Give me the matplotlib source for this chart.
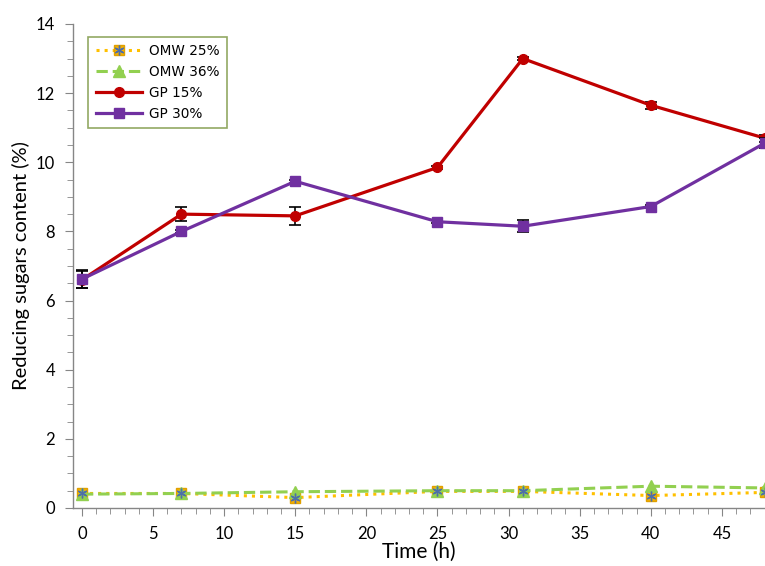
import numpy as np
import matplotlib.pyplot as plt
from matplotlib.legend_handler import HandlerTuple
from matplotlib.ticker import MultipleLocator

plt.rcParams['font.family'] = ['Lato', 'DejaVu Sans']

# datos
time_h = [0, 7, 15, 25, 31, 40, 48]
omw25 = [0.42, 0.42, 0.30, 0.48, 0.48, 0.36, 0.45]
omw36 = [0.40, 0.42, 0.47, 0.50, 0.50, 0.63, 0.58]
gp15 = [6.60, 8.50, 8.45, 9.85, 13.00, 11.65, 10.70]
gp30 = [6.62, 8.00, 9.45, 8.28, 8.15, 8.72, 10.55]
gp15_err = [0.25, 0.20, 0.25, 0.05, 0.05, 0.10, 0.10]
gp30_err = [0.25, 0.05, 0.05, 0.05, 0.18, 0.05, 0.15]

fig = plt.figure(figsize=(7.65, 5.66), dpi=100)
ax = fig.add_axes([0.0954, 0.1025, 0.9046, 0.8551])

l1, = ax.plot(time_h, omw25, ':', color='#FFC000', lw=2.2, marker='s', ms=7,
              mfc='#F5B000', mec='#E0A000', zorder=3)
a1, = ax.plot(time_h, omw25, ls='none', marker=(6, 2, 0), ms=7, mec='#4F6FA8',
              mew=1.0, zorder=4)
l2, = ax.plot(time_h, omw36, '--', color='#92D050', lw=2.2, marker='^', ms=8,
              mfc='#92D050', mec='#92D050', zorder=3)
l3 = ax.errorbar(time_h, gp15, yerr=gp15_err, color='#C00000', lw=2.3, marker='o',
                 ms=7, ecolor='black', elinewidth=1.2, capsize=4, capthick=1.2, zorder=5)
l4 = ax.errorbar(time_h, gp30, yerr=gp30_err, color='#7030A0', lw=2.3, marker='s',
                 ms=7, ecolor='black', elinewidth=1.2, capsize=4, capthick=1.2, zorder=6)

ax.set_xlim(-0.63, 48.03)
ax.set_ylim(0, 14)
ax.xaxis.set_major_locator(MultipleLocator(5))
ax.xaxis.set_minor_locator(MultipleLocator(1))
ax.yaxis.set_major_locator(MultipleLocator(2))
ax.yaxis.set_minor_locator(MultipleLocator(0.5))

for s in ['top', 'right']:
    ax.spines[s].set_visible(False)
for s in ['left', 'bottom']:
    ax.spines[s].set_color('#868686')
    ax.spines[s].set_linewidth(1.0)

ax.tick_params(which='major', direction='out', length=6, color='#868686',
               labelsize=12, pad=7)
ax.tick_params(which='minor', direction='out', length=4, color='#868686')

ax.set_xlabel('Time (h)', fontsize=15, labelpad=0)
ax.set_ylabel('Reducing sugars content (%)', fontsize=14.5, labelpad=4)

leg = ax.legend([(l1, a1), l2, l3[0], l4[0]],
                ['OMW 25%', 'OMW 36%', 'GP 15%', 'GP 30%'],
                handler_map={tuple: HandlerTuple(ndivide=1)},
                loc='upper left', bbox_to_anchor=(0.012, 0.988),
                prop={'family': 'DejaVu Sans', 'size': 9.8},
                frameon=True, fancybox=False,
                edgecolor='#77933C', handlelength=3.4, labelspacing=0.5,
                borderpad=0.55, handletextpad=0.5)
leg.get_frame().set_linewidth(1.2)

fig.savefig('out.png', dpi=100)
